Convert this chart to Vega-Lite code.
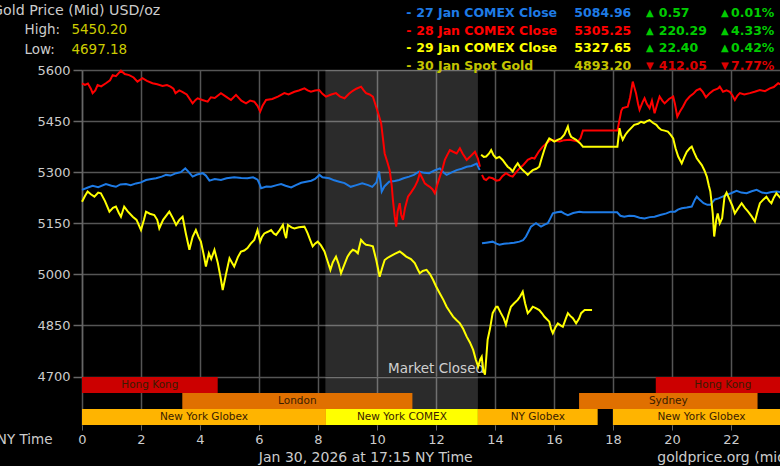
{
  "$schema": "https://vega.github.io/schema/vega-lite/v6.json",
  "background": "#000000",
  "padding": {"left": -8, "top": 4, "right": 0, "bottom": 0},
  "bounds": "flush",
  "spacing": 0,
  "resolve": {"scale": {"color": "independent"}},
  "config": {
    "view": {"stroke": null},
    "font": "DejaVu Sans",
    "text": {"font": "DejaVu Sans"},
    "axis": {"title": null, "labelFont": "DejaVu Sans"},
    "axisX": {"grid": true, "gridColor": "#555555", "gridWidth": 1.5, "domain": false, "tickColor": "#666666", "tickSize": 5, "labelColor": "#cccccc", "labelFontSize": 13, "labelPadding": 3, "labelFlush": false, "title": null},
    "axisY": {"grid": true, "gridColor": "#555555", "gridWidth": 1.5, "domain": true, "domainColor": "#666666", "domainWidth": 1.5, "tickColor": "#666666", "tickSize": 9, "tickWidth": 1.5, "labelColor": "#cccccc", "labelFontSize": 13, "labelPadding": 3, "format": "d", "title": null}
  },
  "datasets": {
    "summary": [{"high": 5450.20, "low": 4697.18, "asof": "Jan 30, 2026 at 17:15 NY Time", "source": "goldprice.org (mid)"}],
    "closed": [{"start": 8.25, "end": 13.42}],
    "legend": [
      {"day": "27 Jan", "label": "27 Jan COMEX Close", "close": 5084.96, "change": 0.57, "pct": 0.0001, "dir": "up"},
      {"day": "28 Jan", "label": "28 Jan COMEX Close", "close": 5305.25, "change": 220.29, "pct": 0.0433, "dir": "up"},
      {"day": "29 Jan", "label": "29 Jan COMEX Close", "close": 5327.65, "change": 22.40, "pct": 0.0042, "dir": "up"},
      {"day": "30 Jan", "label": "30 Jan Spot Gold", "close": 4893.20, "change": 412.05, "pct": 0.0777, "dir": "down"}
    ],
    "sessions": [
      {"name": "Hong Kong", "lane": "asia", "kind": "hk", "start": 0, "end": 4.6},
      {"name": "Hong Kong", "lane": "asia", "kind": "hk", "start": 19.45, "end": 24},
      {"name": "London", "lane": "europe", "kind": "europe", "start": 3.4, "end": 11.2},
      {"name": "Sydney", "lane": "europe", "kind": "europe", "start": 16.85, "end": 22.9},
      {"name": "New York Globex", "lane": "us", "kind": "globex", "start": 0, "end": 8.27},
      {"name": "New York COMEX", "lane": "us", "kind": "comex", "start": 8.27, "end": 13.42},
      {"name": "NY Globex", "lane": "us", "kind": "globex", "start": 13.42, "end": 17.48},
      {"name": "New York Globex", "lane": "us", "kind": "globex", "start": 18, "end": 24}
    ],
    "prices": [
      {"day":"27 Jan","seg":1,"hour":0,"price":5248},{"day":"27 Jan","seg":1,"hour":0.2,"price":5255},{"day":"27 Jan","seg":1,"hour":0.36,"price":5260},{"day":"27 Jan","seg":1,"hour":0.55,"price":5256},{"day":"27 Jan","seg":1,"hour":0.81,"price":5265},{"day":"27 Jan","seg":1,"hour":1.0,"price":5260},{"day":"27 Jan","seg":1,"hour":1.15,"price":5257},{"day":"27 Jan","seg":1,"hour":1.3,"price":5264},{"day":"27 Jan","seg":1,"hour":1.49,"price":5265},{"day":"27 Jan","seg":1,"hour":1.65,"price":5262},{"day":"27 Jan","seg":1,"hour":1.83,"price":5267},{"day":"27 Jan","seg":1,"hour":2.0,"price":5270},{"day":"27 Jan","seg":1,"hour":2.17,"price":5277},{"day":"27 Jan","seg":1,"hour":2.35,"price":5280},{"day":"27 Jan","seg":1,"hour":2.51,"price":5282},{"day":"27 Jan","seg":1,"hour":2.7,"price":5287},{"day":"27 Jan","seg":1,"hour":2.85,"price":5292},{"day":"27 Jan","seg":1,"hour":3.0,"price":5290},{"day":"27 Jan","seg":1,"hour":3.19,"price":5297},{"day":"27 Jan","seg":1,"hour":3.35,"price":5300},{"day":"27 Jan","seg":1,"hour":3.5,"price":5311},{"day":"27 Jan","seg":1,"hour":3.62,"price":5300},{"day":"27 Jan","seg":1,"hour":3.75,"price":5287},{"day":"27 Jan","seg":1,"hour":3.9,"price":5293},{"day":"27 Jan","seg":1,"hour":4.09,"price":5297},{"day":"27 Jan","seg":1,"hour":4.2,"price":5290},{"day":"27 Jan","seg":1,"hour":4.32,"price":5275},{"day":"27 Jan","seg":1,"hour":4.5,"price":5280},{"day":"27 Jan","seg":1,"hour":4.71,"price":5277},{"day":"27 Jan","seg":1,"hour":4.9,"price":5282},{"day":"27 Jan","seg":1,"hour":5.16,"price":5285},{"day":"27 Jan","seg":1,"hour":5.4,"price":5283},{"day":"27 Jan","seg":1,"hour":5.61,"price":5282},{"day":"27 Jan","seg":1,"hour":5.8,"price":5285},{"day":"27 Jan","seg":1,"hour":5.95,"price":5278},{"day":"27 Jan","seg":1,"hour":6.02,"price":5265},{"day":"27 Jan","seg":1,"hour":6.07,"price":5253},{"day":"27 Jan","seg":1,"hour":6.25,"price":5258},{"day":"27 Jan","seg":1,"hour":6.41,"price":5257},{"day":"27 Jan","seg":1,"hour":6.6,"price":5262},{"day":"27 Jan","seg":1,"hour":6.75,"price":5265},{"day":"27 Jan","seg":1,"hour":6.9,"price":5260},{"day":"27 Jan","seg":1,"hour":7.09,"price":5255},{"day":"27 Jan","seg":1,"hour":7.25,"price":5262},{"day":"27 Jan","seg":1,"hour":7.43,"price":5269},{"day":"27 Jan","seg":1,"hour":7.6,"price":5272},{"day":"27 Jan","seg":1,"hour":7.77,"price":5275},{"day":"27 Jan","seg":1,"hour":7.9,"price":5280},{"day":"27 Jan","seg":1,"hour":8.05,"price":5292},{"day":"27 Jan","seg":1,"hour":8.15,"price":5285},{"day":"27 Jan","seg":1,"hour":8.38,"price":5282},{"day":"27 Jan","seg":1,"hour":8.55,"price":5276},{"day":"27 Jan","seg":1,"hour":8.72,"price":5272},{"day":"27 Jan","seg":1,"hour":8.9,"price":5268},{"day":"27 Jan","seg":1,"hour":9.11,"price":5257},{"day":"27 Jan","seg":1,"hour":9.3,"price":5262},{"day":"27 Jan","seg":1,"hour":9.5,"price":5267},{"day":"27 Jan","seg":1,"hour":9.7,"price":5262},{"day":"27 Jan","seg":1,"hour":9.84,"price":5257},{"day":"27 Jan","seg":1,"hour":9.98,"price":5270},{"day":"27 Jan","seg":1,"hour":10.07,"price":5302},{"day":"27 Jan","seg":1,"hour":10.12,"price":5270},{"day":"27 Jan","seg":1,"hour":10.16,"price":5243},{"day":"27 Jan","seg":1,"hour":10.25,"price":5258},{"day":"27 Jan","seg":1,"hour":10.41,"price":5272},{"day":"27 Jan","seg":1,"hour":10.6,"price":5274},{"day":"27 Jan","seg":1,"hour":10.75,"price":5277},{"day":"27 Jan","seg":1,"hour":10.9,"price":5282},{"day":"27 Jan","seg":1,"hour":11.09,"price":5287},{"day":"27 Jan","seg":1,"hour":11.25,"price":5292},{"day":"27 Jan","seg":1,"hour":11.43,"price":5302},{"day":"27 Jan","seg":1,"hour":11.6,"price":5298},{"day":"27 Jan","seg":1,"hour":11.77,"price":5297},{"day":"27 Jan","seg":1,"hour":11.95,"price":5305},{"day":"27 Jan","seg":1,"hour":12.13,"price":5311},{"day":"27 Jan","seg":1,"hour":12.25,"price":5300},{"day":"27 Jan","seg":1,"hour":12.36,"price":5292},{"day":"27 Jan","seg":1,"hour":12.55,"price":5300},{"day":"27 Jan","seg":1,"hour":12.7,"price":5306},{"day":"27 Jan","seg":1,"hour":12.87,"price":5310},{"day":"27 Jan","seg":1,"hour":13.04,"price":5316},{"day":"27 Jan","seg":1,"hour":13.2,"price":5318},{"day":"27 Jan","seg":1,"hour":13.38,"price":5325},{"day":"27 Jan","seg":1,"hour":13.48,"price":5306},
      {"day":"27 Jan","seg":2,"hour":13.56,"price":5091},{"day":"27 Jan","seg":2,"hour":13.7,"price":5093},{"day":"27 Jan","seg":2,"hour":13.92,"price":5096},{"day":"27 Jan","seg":2,"hour":14.05,"price":5090},{"day":"27 Jan","seg":2,"hour":14.15,"price":5087},{"day":"27 Jan","seg":2,"hour":14.3,"price":5090},{"day":"27 Jan","seg":2,"hour":14.49,"price":5091},{"day":"27 Jan","seg":2,"hour":14.65,"price":5093},{"day":"27 Jan","seg":2,"hour":14.83,"price":5096},{"day":"27 Jan","seg":2,"hour":14.95,"price":5100},{"day":"27 Jan","seg":2,"hour":15.05,"price":5111},{"day":"27 Jan","seg":2,"hour":15.15,"price":5128},{"day":"27 Jan","seg":2,"hour":15.22,"price":5140},{"day":"27 Jan","seg":2,"hour":15.3,"price":5145},{"day":"27 Jan","seg":2,"hour":15.39,"price":5150},{"day":"27 Jan","seg":2,"hour":15.48,"price":5145},{"day":"27 Jan","seg":2,"hour":15.56,"price":5140},{"day":"27 Jan","seg":2,"hour":15.68,"price":5146},{"day":"27 Jan","seg":2,"hour":15.79,"price":5150},{"day":"27 Jan","seg":2,"hour":15.88,"price":5165},{"day":"27 Jan","seg":2,"hour":15.96,"price":5179},{"day":"27 Jan","seg":2,"hour":16.1,"price":5182},{"day":"27 Jan","seg":2,"hour":16.24,"price":5184},{"day":"27 Jan","seg":2,"hour":16.35,"price":5178},{"day":"27 Jan","seg":2,"hour":16.47,"price":5174},{"day":"27 Jan","seg":2,"hour":16.65,"price":5180},{"day":"27 Jan","seg":2,"hour":16.86,"price":5184},{"day":"27 Jan","seg":2,"hour":16.98,"price":5182},{"day":"27 Jan","seg":2,"hour":18.14,"price":5182},{"day":"27 Jan","seg":2,"hour":18.25,"price":5172},{"day":"27 Jan","seg":2,"hour":18.38,"price":5169},{"day":"27 Jan","seg":2,"hour":18.55,"price":5172},{"day":"27 Jan","seg":2,"hour":18.72,"price":5171},{"day":"27 Jan","seg":2,"hour":18.9,"price":5166},{"day":"27 Jan","seg":2,"hour":19.07,"price":5164},{"day":"27 Jan","seg":2,"hour":19.25,"price":5168},{"day":"27 Jan","seg":2,"hour":19.41,"price":5169},{"day":"27 Jan","seg":2,"hour":19.6,"price":5174},{"day":"27 Jan","seg":2,"hour":19.81,"price":5179},{"day":"27 Jan","seg":2,"hour":19.95,"price":5184},{"day":"27 Jan","seg":2,"hour":20.1,"price":5184},{"day":"27 Jan","seg":2,"hour":20.2,"price":5190},{"day":"27 Jan","seg":2,"hour":20.33,"price":5194},{"day":"27 Jan","seg":2,"hour":20.5,"price":5196},{"day":"27 Jan","seg":2,"hour":20.67,"price":5199},{"day":"27 Jan","seg":2,"hour":20.78,"price":5220},{"day":"27 Jan","seg":2,"hour":20.84,"price":5228},{"day":"27 Jan","seg":2,"hour":20.95,"price":5218},{"day":"27 Jan","seg":2,"hour":21.07,"price":5209},{"day":"27 Jan","seg":2,"hour":21.2,"price":5204},{"day":"27 Jan","seg":2,"hour":21.3,"price":5204},{"day":"27 Jan","seg":2,"hour":21.45,"price":5220},{"day":"27 Jan","seg":2,"hour":21.58,"price":5223},{"day":"27 Jan","seg":2,"hour":21.81,"price":5232},{"day":"27 Jan","seg":2,"hour":22.0,"price":5238},{"day":"27 Jan","seg":2,"hour":22.19,"price":5245},{"day":"27 Jan","seg":2,"hour":22.35,"price":5240},{"day":"27 Jan","seg":2,"hour":22.53,"price":5238},{"day":"27 Jan","seg":2,"hour":22.7,"price":5244},{"day":"27 Jan","seg":2,"hour":22.87,"price":5248},{"day":"27 Jan","seg":2,"hour":23.05,"price":5240},{"day":"27 Jan","seg":2,"hour":23.2,"price":5238},{"day":"27 Jan","seg":2,"hour":23.37,"price":5242},{"day":"27 Jan","seg":2,"hour":23.54,"price":5243},{"day":"27 Jan","seg":2,"hour":23.8,"price":5240},{"day":"27 Jan","seg":2,"hour":24,"price":5240},
      {"day":"28 Jan","seg":1,"hour":0,"price":5561},{"day":"28 Jan","seg":1,"hour":0.1,"price":5556},{"day":"28 Jan","seg":1,"hour":0.2,"price":5560},{"day":"28 Jan","seg":1,"hour":0.3,"price":5545},{"day":"28 Jan","seg":1,"hour":0.36,"price":5532},{"day":"28 Jan","seg":1,"hour":0.45,"price":5540},{"day":"28 Jan","seg":1,"hour":0.53,"price":5556},{"day":"28 Jan","seg":1,"hour":0.65,"price":5552},{"day":"28 Jan","seg":1,"hour":0.81,"price":5561},{"day":"28 Jan","seg":1,"hour":0.95,"price":5570},{"day":"28 Jan","seg":1,"hour":1.04,"price":5585},{"day":"28 Jan","seg":1,"hour":1.15,"price":5582},{"day":"28 Jan","seg":1,"hour":1.32,"price":5598},{"day":"28 Jan","seg":1,"hour":1.45,"price":5588},{"day":"28 Jan","seg":1,"hour":1.6,"price":5585},{"day":"28 Jan","seg":1,"hour":1.75,"price":5578},{"day":"28 Jan","seg":1,"hour":1.88,"price":5566},{"day":"28 Jan","seg":1,"hour":2.05,"price":5576},{"day":"28 Jan","seg":1,"hour":2.2,"price":5568},{"day":"28 Jan","seg":1,"hour":2.39,"price":5561},{"day":"28 Jan","seg":1,"hour":2.55,"price":5558},{"day":"28 Jan","seg":1,"hour":2.73,"price":5553},{"day":"28 Jan","seg":1,"hour":2.88,"price":5556},{"day":"28 Jan","seg":1,"hour":3.0,"price":5551},{"day":"28 Jan","seg":1,"hour":3.1,"price":5545},{"day":"28 Jan","seg":1,"hour":3.17,"price":5532},{"day":"28 Jan","seg":1,"hour":3.3,"price":5540},{"day":"28 Jan","seg":1,"hour":3.4,"price":5536},{"day":"28 Jan","seg":1,"hour":3.55,"price":5528},{"day":"28 Jan","seg":1,"hour":3.75,"price":5502},{"day":"28 Jan","seg":1,"hour":3.85,"price":5512},{"day":"28 Jan","seg":1,"hour":3.92,"price":5517},{"day":"28 Jan","seg":1,"hour":4.08,"price":5512},{"day":"28 Jan","seg":1,"hour":4.26,"price":5507},{"day":"28 Jan","seg":1,"hour":4.37,"price":5520},{"day":"28 Jan","seg":1,"hour":4.5,"price":5518},{"day":"28 Jan","seg":1,"hour":4.71,"price":5532},{"day":"28 Jan","seg":1,"hour":4.88,"price":5522},{"day":"28 Jan","seg":1,"hour":5.05,"price":5512},{"day":"28 Jan","seg":1,"hour":5.22,"price":5527},{"day":"28 Jan","seg":1,"hour":5.4,"price":5510},{"day":"28 Jan","seg":1,"hour":5.56,"price":5502},{"day":"28 Jan","seg":1,"hour":5.7,"price":5510},{"day":"28 Jan","seg":1,"hour":5.84,"price":5507},{"day":"28 Jan","seg":1,"hour":5.95,"price":5495},{"day":"28 Jan","seg":1,"hour":6.04,"price":5478},{"day":"28 Jan","seg":1,"hour":6.12,"price":5495},{"day":"28 Jan","seg":1,"hour":6.24,"price":5512},{"day":"28 Jan","seg":1,"hour":6.45,"price":5515},{"day":"28 Jan","seg":1,"hour":6.64,"price":5522},{"day":"28 Jan","seg":1,"hour":6.86,"price":5532},{"day":"28 Jan","seg":1,"hour":7.0,"price":5528},{"day":"28 Jan","seg":1,"hour":7.2,"price":5536},{"day":"28 Jan","seg":1,"hour":7.35,"price":5540},{"day":"28 Jan","seg":1,"hour":7.54,"price":5546},{"day":"28 Jan","seg":1,"hour":7.65,"price":5540},{"day":"28 Jan","seg":1,"hour":7.76,"price":5536},{"day":"28 Jan","seg":1,"hour":7.9,"price":5540},{"day":"28 Jan","seg":1,"hour":8.04,"price":5541},{"day":"28 Jan","seg":1,"hour":8.15,"price":5530},{"day":"28 Jan","seg":1,"hour":8.27,"price":5522},{"day":"28 Jan","seg":1,"hour":8.45,"price":5528},{"day":"28 Jan","seg":1,"hour":8.61,"price":5532},{"day":"28 Jan","seg":1,"hour":8.75,"price":5522},{"day":"28 Jan","seg":1,"hour":8.9,"price":5517},{"day":"28 Jan","seg":1,"hour":9.05,"price":5530},{"day":"28 Jan","seg":1,"hour":9.18,"price":5539},{"day":"28 Jan","seg":1,"hour":9.3,"price":5545},{"day":"28 Jan","seg":1,"hour":9.46,"price":5551},{"day":"28 Jan","seg":1,"hour":9.55,"price":5540},{"day":"28 Jan","seg":1,"hour":9.63,"price":5532},{"day":"28 Jan","seg":1,"hour":9.75,"price":5528},{"day":"28 Jan","seg":1,"hour":9.86,"price":5522},{"day":"28 Jan","seg":1,"hour":9.97,"price":5492},{"day":"28 Jan","seg":1,"hour":10.05,"price":5470},{"day":"28 Jan","seg":1,"hour":10.14,"price":5444},{"day":"28 Jan","seg":1,"hour":10.2,"price":5400},{"day":"28 Jan","seg":1,"hour":10.26,"price":5355},{"day":"28 Jan","seg":1,"hour":10.35,"price":5330},{"day":"28 Jan","seg":1,"hour":10.43,"price":5306},{"day":"28 Jan","seg":1,"hour":10.5,"price":5260},{"day":"28 Jan","seg":1,"hour":10.54,"price":5218},{"day":"28 Jan","seg":1,"hour":10.6,"price":5170},{"day":"28 Jan","seg":1,"hour":10.65,"price":5140},{"day":"28 Jan","seg":1,"hour":10.7,"price":5185},{"day":"28 Jan","seg":1,"hour":10.77,"price":5209},{"day":"28 Jan","seg":1,"hour":10.82,"price":5175},{"day":"28 Jan","seg":1,"hour":10.88,"price":5160},{"day":"28 Jan","seg":1,"hour":10.95,"price":5195},{"day":"28 Jan","seg":1,"hour":11.05,"price":5228},{"day":"28 Jan","seg":1,"hour":11.15,"price":5240},{"day":"28 Jan","seg":1,"hour":11.28,"price":5257},{"day":"28 Jan","seg":1,"hour":11.38,"price":5275},{"day":"28 Jan","seg":1,"hour":11.45,"price":5297},{"day":"28 Jan","seg":1,"hour":11.55,"price":5280},{"day":"28 Jan","seg":1,"hour":11.62,"price":5267},{"day":"28 Jan","seg":1,"hour":11.7,"price":5262},{"day":"28 Jan","seg":1,"hour":11.79,"price":5257},{"day":"28 Jan","seg":1,"hour":11.88,"price":5250},{"day":"28 Jan","seg":1,"hour":11.96,"price":5238},{"day":"28 Jan","seg":1,"hour":12.05,"price":5265},{"day":"28 Jan","seg":1,"hour":12.13,"price":5287},{"day":"28 Jan","seg":1,"hour":12.22,"price":5310},{"day":"28 Jan","seg":1,"hour":12.3,"price":5336},{"day":"28 Jan","seg":1,"hour":12.38,"price":5350},{"day":"28 Jan","seg":1,"hour":12.47,"price":5365},{"day":"28 Jan","seg":1,"hour":12.58,"price":5360},{"day":"28 Jan","seg":1,"hour":12.7,"price":5355},{"day":"28 Jan","seg":1,"hour":12.81,"price":5370},{"day":"28 Jan","seg":1,"hour":12.9,"price":5355},{"day":"28 Jan","seg":1,"hour":13.04,"price":5336},{"day":"28 Jan","seg":1,"hour":13.15,"price":5345},{"day":"28 Jan","seg":1,"hour":13.32,"price":5360},{"day":"28 Jan","seg":1,"hour":13.42,"price":5340},{"day":"28 Jan","seg":1,"hour":13.49,"price":5316},
      {"day":"28 Jan","seg":2,"hour":13.56,"price":5292},{"day":"28 Jan","seg":2,"hour":13.63,"price":5280},{"day":"28 Jan","seg":2,"hour":13.7,"price":5277},{"day":"28 Jan","seg":2,"hour":13.8,"price":5285},{"day":"28 Jan","seg":2,"hour":13.92,"price":5282},{"day":"28 Jan","seg":2,"hour":14.05,"price":5275},{"day":"28 Jan","seg":2,"hour":14.15,"price":5277},{"day":"28 Jan","seg":2,"hour":14.25,"price":5288},{"day":"28 Jan","seg":2,"hour":14.37,"price":5297},{"day":"28 Jan","seg":2,"hour":14.5,"price":5290},{"day":"28 Jan","seg":2,"hour":14.6,"price":5287},{"day":"28 Jan","seg":2,"hour":14.72,"price":5300},{"day":"28 Jan","seg":2,"hour":14.83,"price":5311},{"day":"28 Jan","seg":2,"hour":14.95,"price":5320},{"day":"28 Jan","seg":2,"hour":15.11,"price":5336},{"day":"28 Jan","seg":2,"hour":15.25,"price":5342},{"day":"28 Jan","seg":2,"hour":15.34,"price":5340},{"day":"28 Jan","seg":2,"hour":15.48,"price":5360},{"day":"28 Jan","seg":2,"hour":15.62,"price":5375},{"day":"28 Jan","seg":2,"hour":15.75,"price":5385},{"day":"28 Jan","seg":2,"hour":15.9,"price":5395},{"day":"28 Jan","seg":2,"hour":16.05,"price":5392},{"day":"28 Jan","seg":2,"hour":16.19,"price":5390},{"day":"28 Jan","seg":2,"hour":16.35,"price":5394},{"day":"28 Jan","seg":2,"hour":16.53,"price":5395},{"day":"28 Jan","seg":2,"hour":16.7,"price":5392},{"day":"28 Jan","seg":2,"hour":16.81,"price":5390},{"day":"28 Jan","seg":2,"hour":16.9,"price":5400},{"day":"28 Jan","seg":2,"hour":16.98,"price":5422},{"day":"28 Jan","seg":2,"hour":18.15,"price":5422},{"day":"28 Jan","seg":2,"hour":18.22,"price":5453},{"day":"28 Jan","seg":2,"hour":18.28,"price":5480},{"day":"28 Jan","seg":2,"hour":18.33,"price":5488},{"day":"28 Jan","seg":2,"hour":18.5,"price":5492},{"day":"28 Jan","seg":2,"hour":18.58,"price":5520},{"day":"28 Jan","seg":2,"hour":18.67,"price":5566},{"day":"28 Jan","seg":2,"hour":18.72,"price":5550},{"day":"28 Jan","seg":2,"hour":18.78,"price":5532},{"day":"28 Jan","seg":2,"hour":18.85,"price":5500},{"day":"28 Jan","seg":2,"hour":18.9,"price":5483},{"day":"28 Jan","seg":2,"hour":19.0,"price":5505},{"day":"28 Jan","seg":2,"hour":19.07,"price":5517},{"day":"28 Jan","seg":2,"hour":19.15,"price":5500},{"day":"28 Jan","seg":2,"hour":19.24,"price":5488},{"day":"28 Jan","seg":2,"hour":19.32,"price":5510},{"day":"28 Jan","seg":2,"hour":19.41,"price":5473},{"day":"28 Jan","seg":2,"hour":19.5,"price":5500},{"day":"28 Jan","seg":2,"hour":19.58,"price":5522},{"day":"28 Jan","seg":2,"hour":19.67,"price":5510},{"day":"28 Jan","seg":2,"hour":19.75,"price":5502},{"day":"28 Jan","seg":2,"hour":19.9,"price":5515},{"day":"28 Jan","seg":2,"hour":20.04,"price":5522},{"day":"28 Jan","seg":2,"hour":20.1,"price":5500},{"day":"28 Jan","seg":2,"hour":20.18,"price":5463},{"day":"28 Jan","seg":2,"hour":20.27,"price":5478},{"day":"28 Jan","seg":2,"hour":20.37,"price":5492},{"day":"28 Jan","seg":2,"hour":20.48,"price":5510},{"day":"28 Jan","seg":2,"hour":20.6,"price":5522},{"day":"28 Jan","seg":2,"hour":20.72,"price":5530},{"day":"28 Jan","seg":2,"hour":20.83,"price":5540},{"day":"28 Jan","seg":2,"hour":20.95,"price":5545},{"day":"28 Jan","seg":2,"hour":21.05,"price":5535},{"day":"28 Jan","seg":2,"hour":21.15,"price":5520},{"day":"28 Jan","seg":2,"hour":21.28,"price":5532},{"day":"28 Jan","seg":2,"hour":21.4,"price":5540},{"day":"28 Jan","seg":2,"hour":21.55,"price":5545},{"day":"28 Jan","seg":2,"hour":21.62,"price":5551},{"day":"28 Jan","seg":2,"hour":21.73,"price":5536},{"day":"28 Jan","seg":2,"hour":21.85,"price":5540},{"day":"28 Jan","seg":2,"hour":21.96,"price":5536},{"day":"28 Jan","seg":2,"hour":22.05,"price":5525},{"day":"28 Jan","seg":2,"hour":22.13,"price":5512},{"day":"28 Jan","seg":2,"hour":22.22,"price":5525},{"day":"28 Jan","seg":2,"hour":22.3,"price":5532},{"day":"28 Jan","seg":2,"hour":22.45,"price":5528},{"day":"28 Jan","seg":2,"hour":22.64,"price":5532},{"day":"28 Jan","seg":2,"hour":22.8,"price":5536},{"day":"28 Jan","seg":2,"hour":22.98,"price":5541},{"day":"28 Jan","seg":2,"hour":23.15,"price":5538},{"day":"28 Jan","seg":2,"hour":23.32,"price":5546},{"day":"28 Jan","seg":2,"hour":23.45,"price":5550},{"day":"28 Jan","seg":2,"hour":23.6,"price":5561},{"day":"28 Jan","seg":2,"hour":23.75,"price":5555},{"day":"28 Jan","seg":2,"hour":24,"price":5558},
      {"day":"29 Jan","seg":1,"hour":13.53,"price":5351},{"day":"29 Jan","seg":1,"hour":13.62,"price":5345},{"day":"29 Jan","seg":1,"hour":13.7,"price":5346},{"day":"29 Jan","seg":1,"hour":13.8,"price":5355},{"day":"29 Jan","seg":1,"hour":13.87,"price":5365},{"day":"29 Jan","seg":1,"hour":13.95,"price":5350},{"day":"29 Jan","seg":1,"hour":14.04,"price":5341},{"day":"29 Jan","seg":1,"hour":14.15,"price":5345},{"day":"29 Jan","seg":1,"hour":14.26,"price":5336},{"day":"29 Jan","seg":1,"hour":14.35,"price":5325},{"day":"29 Jan","seg":1,"hour":14.43,"price":5316},{"day":"29 Jan","seg":1,"hour":14.52,"price":5310},{"day":"29 Jan","seg":1,"hour":14.6,"price":5302},{"day":"29 Jan","seg":1,"hour":14.68,"price":5315},{"day":"29 Jan","seg":1,"hour":14.77,"price":5326},{"day":"29 Jan","seg":1,"hour":14.85,"price":5315},{"day":"29 Jan","seg":1,"hour":14.94,"price":5306},{"day":"29 Jan","seg":1,"hour":15.02,"price":5300},{"day":"29 Jan","seg":1,"hour":15.11,"price":5292},{"day":"29 Jan","seg":1,"hour":15.2,"price":5300},{"day":"29 Jan","seg":1,"hour":15.28,"price":5306},{"day":"29 Jan","seg":1,"hour":15.4,"price":5310},{"day":"29 Jan","seg":1,"hour":15.5,"price":5316},{"day":"29 Jan","seg":1,"hour":15.58,"price":5340},{"day":"29 Jan","seg":1,"hour":15.67,"price":5365},{"day":"29 Jan","seg":1,"hour":15.75,"price":5385},{"day":"29 Jan","seg":1,"hour":15.84,"price":5399},{"day":"29 Jan","seg":1,"hour":15.92,"price":5395},{"day":"29 Jan","seg":1,"hour":16.01,"price":5390},{"day":"29 Jan","seg":1,"hour":16.12,"price":5395},{"day":"29 Jan","seg":1,"hour":16.24,"price":5399},{"day":"29 Jan","seg":1,"hour":16.35,"price":5410},{"day":"29 Jan","seg":1,"hour":16.47,"price":5434},{"day":"29 Jan","seg":1,"hour":16.52,"price":5415},{"day":"29 Jan","seg":1,"hour":16.58,"price":5404},{"day":"29 Jan","seg":1,"hour":16.75,"price":5395},{"day":"29 Jan","seg":1,"hour":16.88,"price":5385},{"day":"29 Jan","seg":1,"hour":16.98,"price":5375},{"day":"29 Jan","seg":1,"hour":18.15,"price":5375},{"day":"29 Jan","seg":1,"hour":18.22,"price":5429},{"day":"29 Jan","seg":1,"hour":18.27,"price":5410},{"day":"29 Jan","seg":1,"hour":18.33,"price":5395},{"day":"29 Jan","seg":1,"hour":18.42,"price":5410},{"day":"29 Jan","seg":1,"hour":18.5,"price":5419},{"day":"29 Jan","seg":1,"hour":18.62,"price":5430},{"day":"29 Jan","seg":1,"hour":18.72,"price":5439},{"day":"29 Jan","seg":1,"hour":18.85,"price":5442},{"day":"29 Jan","seg":1,"hour":18.95,"price":5448},{"day":"29 Jan","seg":1,"hour":19.05,"price":5445},{"day":"29 Jan","seg":1,"hour":19.15,"price":5450},{"day":"29 Jan","seg":1,"hour":19.24,"price":5453},{"day":"29 Jan","seg":1,"hour":19.35,"price":5445},{"day":"29 Jan","seg":1,"hour":19.47,"price":5439},{"day":"29 Jan","seg":1,"hour":19.55,"price":5430},{"day":"29 Jan","seg":1,"hour":19.64,"price":5424},{"day":"29 Jan","seg":1,"hour":19.75,"price":5422},{"day":"29 Jan","seg":1,"hour":19.86,"price":5419},{"day":"29 Jan","seg":1,"hour":19.95,"price":5410},{"day":"29 Jan","seg":1,"hour":20.04,"price":5399},{"day":"29 Jan","seg":1,"hour":20.12,"price":5370},{"day":"29 Jan","seg":1,"hour":20.21,"price":5346},{"day":"29 Jan","seg":1,"hour":20.33,"price":5326},{"day":"29 Jan","seg":1,"hour":20.42,"price":5345},{"day":"29 Jan","seg":1,"hour":20.5,"price":5360},{"day":"29 Jan","seg":1,"hour":20.6,"price":5370},{"day":"29 Jan","seg":1,"hour":20.67,"price":5375},{"day":"29 Jan","seg":1,"hour":20.75,"price":5358},{"day":"29 Jan","seg":1,"hour":20.84,"price":5341},{"day":"29 Jan","seg":1,"hour":20.93,"price":5330},{"day":"29 Jan","seg":1,"hour":21.01,"price":5321},{"day":"29 Jan","seg":1,"hour":21.1,"price":5305},{"day":"29 Jan","seg":1,"hour":21.18,"price":5287},{"day":"29 Jan","seg":1,"hour":21.25,"price":5260},{"day":"29 Jan","seg":1,"hour":21.3,"price":5243},{"day":"29 Jan","seg":1,"hour":21.38,"price":5180},{"day":"29 Jan","seg":1,"hour":21.43,"price":5111},{"day":"29 Jan","seg":1,"hour":21.5,"price":5160},{"day":"29 Jan","seg":1,"hour":21.55,"price":5179},{"day":"29 Jan","seg":1,"hour":21.62,"price":5150},{"day":"29 Jan","seg":1,"hour":21.7,"price":5165},{"day":"29 Jan","seg":1,"hour":21.78,"price":5228},{"day":"29 Jan","seg":1,"hour":21.85,"price":5240},{"day":"29 Jan","seg":1,"hour":21.96,"price":5218},{"day":"29 Jan","seg":1,"hour":22.05,"price":5200},{"day":"29 Jan","seg":1,"hour":22.13,"price":5179},{"day":"29 Jan","seg":1,"hour":22.25,"price":5195},{"day":"29 Jan","seg":1,"hour":22.36,"price":5209},{"day":"29 Jan","seg":1,"hour":22.47,"price":5195},{"day":"29 Jan","seg":1,"hour":22.58,"price":5184},{"day":"29 Jan","seg":1,"hour":22.7,"price":5170},{"day":"29 Jan","seg":1,"hour":22.81,"price":5155},{"day":"29 Jan","seg":1,"hour":22.9,"price":5185},{"day":"29 Jan","seg":1,"hour":22.98,"price":5209},{"day":"29 Jan","seg":1,"hour":23.1,"price":5220},{"day":"29 Jan","seg":1,"hour":23.2,"price":5228},{"day":"29 Jan","seg":1,"hour":23.3,"price":5215},{"day":"29 Jan","seg":1,"hour":23.37,"price":5209},{"day":"29 Jan","seg":1,"hour":23.45,"price":5225},{"day":"29 Jan","seg":1,"hour":23.54,"price":5238},{"day":"29 Jan","seg":1,"hour":23.7,"price":5222},{"day":"29 Jan","seg":1,"hour":23.85,"price":5215},{"day":"29 Jan","seg":1,"hour":24,"price":5225},
      {"day":"30 Jan","seg":1,"hour":0,"price":5213},{"day":"30 Jan","seg":1,"hour":0.1,"price":5230},{"day":"30 Jan","seg":1,"hour":0.19,"price":5243},{"day":"30 Jan","seg":1,"hour":0.3,"price":5235},{"day":"30 Jan","seg":1,"hour":0.42,"price":5228},{"day":"30 Jan","seg":1,"hour":0.55,"price":5240},{"day":"30 Jan","seg":1,"hour":0.64,"price":5238},{"day":"30 Jan","seg":1,"hour":0.78,"price":5215},{"day":"30 Jan","seg":1,"hour":0.93,"price":5184},{"day":"30 Jan","seg":1,"hour":1.05,"price":5195},{"day":"30 Jan","seg":1,"hour":1.15,"price":5199},{"day":"30 Jan","seg":1,"hour":1.25,"price":5180},{"day":"30 Jan","seg":1,"hour":1.32,"price":5169},{"day":"30 Jan","seg":1,"hour":1.43,"price":5199},{"day":"30 Jan","seg":1,"hour":1.55,"price":5185},{"day":"30 Jan","seg":1,"hour":1.72,"price":5169},{"day":"30 Jan","seg":1,"hour":1.85,"price":5160},{"day":"30 Jan","seg":1,"hour":2.0,"price":5130},{"day":"30 Jan","seg":1,"hour":2.1,"price":5160},{"day":"30 Jan","seg":1,"hour":2.17,"price":5184},{"day":"30 Jan","seg":1,"hour":2.3,"price":5178},{"day":"30 Jan","seg":1,"hour":2.45,"price":5174},{"day":"30 Jan","seg":1,"hour":2.55,"price":5160},{"day":"30 Jan","seg":1,"hour":2.62,"price":5135},{"day":"30 Jan","seg":1,"hour":2.75,"price":5160},{"day":"30 Jan","seg":1,"hour":2.96,"price":5184},{"day":"30 Jan","seg":1,"hour":3.08,"price":5165},{"day":"30 Jan","seg":1,"hour":3.19,"price":5145},{"day":"30 Jan","seg":1,"hour":3.3,"price":5160},{"day":"30 Jan","seg":1,"hour":3.41,"price":5169},{"day":"30 Jan","seg":1,"hour":3.52,"price":5120},{"day":"30 Jan","seg":1,"hour":3.64,"price":5072},{"day":"30 Jan","seg":1,"hour":3.75,"price":5110},{"day":"30 Jan","seg":1,"hour":3.86,"price":5130},{"day":"30 Jan","seg":1,"hour":3.95,"price":5110},{"day":"30 Jan","seg":1,"hour":4.03,"price":5096},{"day":"30 Jan","seg":1,"hour":4.12,"price":5060},{"day":"30 Jan","seg":1,"hour":4.2,"price":5023},{"day":"30 Jan","seg":1,"hour":4.3,"price":5062},{"day":"30 Jan","seg":1,"hour":4.38,"price":5045},{"day":"30 Jan","seg":1,"hour":4.49,"price":5072},{"day":"30 Jan","seg":1,"hour":4.6,"price":5035},{"day":"30 Jan","seg":1,"hour":4.7,"price":4990},{"day":"30 Jan","seg":1,"hour":4.77,"price":4954},{"day":"30 Jan","seg":1,"hour":4.88,"price":5000},{"day":"30 Jan","seg":1,"hour":5.0,"price":5047},{"day":"30 Jan","seg":1,"hour":5.08,"price":5035},{"day":"30 Jan","seg":1,"hour":5.16,"price":5023},{"day":"30 Jan","seg":1,"hour":5.28,"price":5050},{"day":"30 Jan","seg":1,"hour":5.39,"price":5067},{"day":"30 Jan","seg":1,"hour":5.5,"price":5070},{"day":"30 Jan","seg":1,"hour":5.61,"price":5077},{"day":"30 Jan","seg":1,"hour":5.72,"price":5090},{"day":"30 Jan","seg":1,"hour":5.84,"price":5101},{"day":"30 Jan","seg":1,"hour":5.95,"price":5130},{"day":"30 Jan","seg":1,"hour":6.04,"price":5096},{"day":"30 Jan","seg":1,"hour":6.1,"price":5110},{"day":"30 Jan","seg":1,"hour":6.18,"price":5120},{"day":"30 Jan","seg":1,"hour":6.3,"price":5125},{"day":"30 Jan","seg":1,"hour":6.41,"price":5130},{"day":"30 Jan","seg":1,"hour":6.5,"price":5120},{"day":"30 Jan","seg":1,"hour":6.58,"price":5116},{"day":"30 Jan","seg":1,"hour":6.7,"price":5130},{"day":"30 Jan","seg":1,"hour":6.81,"price":5145},{"day":"30 Jan","seg":1,"hour":6.87,"price":5120},{"day":"30 Jan","seg":1,"hour":6.92,"price":5106},{"day":"30 Jan","seg":1,"hour":6.98,"price":5145},{"day":"30 Jan","seg":1,"hour":7.1,"price":5138},{"day":"30 Jan","seg":1,"hour":7.2,"price":5135},{"day":"30 Jan","seg":1,"hour":7.35,"price":5138},{"day":"30 Jan","seg":1,"hour":7.54,"price":5140},{"day":"30 Jan","seg":1,"hour":7.6,"price":5130},{"day":"30 Jan","seg":1,"hour":7.65,"price":5120},{"day":"30 Jan","seg":1,"hour":7.74,"price":5100},{"day":"30 Jan","seg":1,"hour":7.82,"price":5082},{"day":"30 Jan","seg":1,"hour":7.9,"price":5090},{"day":"30 Jan","seg":1,"hour":7.99,"price":5096},{"day":"30 Jan","seg":1,"hour":8.1,"price":5085},{"day":"30 Jan","seg":1,"hour":8.22,"price":5067},{"day":"30 Jan","seg":1,"hour":8.32,"price":5040},{"day":"30 Jan","seg":1,"hour":8.42,"price":5013},{"day":"30 Jan","seg":1,"hour":8.5,"price":5035},{"day":"30 Jan","seg":1,"hour":8.61,"price":5052},{"day":"30 Jan","seg":1,"hour":8.7,"price":5030},{"day":"30 Jan","seg":1,"hour":8.78,"price":5003},{"day":"30 Jan","seg":1,"hour":8.9,"price":5030},{"day":"30 Jan","seg":1,"hour":9.0,"price":5052},{"day":"30 Jan","seg":1,"hour":9.1,"price":5065},{"day":"30 Jan","seg":1,"hour":9.18,"price":5072},{"day":"30 Jan","seg":1,"hour":9.28,"price":5068},{"day":"30 Jan","seg":1,"hour":9.35,"price":5062},{"day":"30 Jan","seg":1,"hour":9.4,"price":5080},{"day":"30 Jan","seg":1,"hour":9.46,"price":5101},{"day":"30 Jan","seg":1,"hour":9.55,"price":5092},{"day":"30 Jan","seg":1,"hour":9.63,"price":5087},{"day":"30 Jan","seg":1,"hour":9.75,"price":5085},{"day":"30 Jan","seg":1,"hour":9.86,"price":5082},{"day":"30 Jan","seg":1,"hour":9.98,"price":5040},{"day":"30 Jan","seg":1,"hour":10.09,"price":4993},{"day":"30 Jan","seg":1,"hour":10.18,"price":5020},{"day":"30 Jan","seg":1,"hour":10.26,"price":5042},{"day":"30 Jan","seg":1,"hour":10.35,"price":5048},{"day":"30 Jan","seg":1,"hour":10.43,"price":5052},{"day":"30 Jan","seg":1,"hour":10.6,"price":5060},{"day":"30 Jan","seg":1,"hour":10.77,"price":5067},{"day":"30 Jan","seg":1,"hour":10.88,"price":5060},{"day":"30 Jan","seg":1,"hour":10.99,"price":5052},{"day":"30 Jan","seg":1,"hour":11.15,"price":5045},{"day":"30 Jan","seg":1,"hour":11.28,"price":5033},{"day":"30 Jan","seg":1,"hour":11.38,"price":5015},{"day":"30 Jan","seg":1,"hour":11.45,"price":5003},{"day":"30 Jan","seg":1,"hour":11.55,"price":5010},{"day":"30 Jan","seg":1,"hour":11.68,"price":5013},{"day":"30 Jan","seg":1,"hour":11.8,"price":5000},{"day":"30 Jan","seg":1,"hour":11.9,"price":4984},{"day":"30 Jan","seg":1,"hour":12.0,"price":4965},{"day":"30 Jan","seg":1,"hour":12.13,"price":4944},{"day":"30 Jan","seg":1,"hour":12.25,"price":4925},{"day":"30 Jan","seg":1,"hour":12.36,"price":4905},{"day":"30 Jan","seg":1,"hour":12.47,"price":4890},{"day":"30 Jan","seg":1,"hour":12.58,"price":4876},{"day":"30 Jan","seg":1,"hour":12.7,"price":4865},{"day":"30 Jan","seg":1,"hour":12.81,"price":4856},{"day":"30 Jan","seg":1,"hour":12.92,"price":4840},{"day":"30 Jan","seg":1,"hour":13.04,"price":4817},{"day":"30 Jan","seg":1,"hour":13.15,"price":4800},{"day":"30 Jan","seg":1,"hour":13.26,"price":4778},{"day":"30 Jan","seg":1,"hour":13.35,"price":4749},{"day":"30 Jan","seg":1,"hour":13.43,"price":4729},{"day":"30 Jan","seg":1,"hour":13.5,"price":4750},{"day":"30 Jan","seg":1,"hour":13.55,"price":4758},{"day":"30 Jan","seg":1,"hour":13.6,"price":4720},{"day":"30 Jan","seg":1,"hour":13.66,"price":4705},{"day":"30 Jan","seg":1,"hour":13.75,"price":4808},{"day":"30 Jan","seg":1,"hour":13.83,"price":4840},{"day":"30 Jan","seg":1,"hour":13.92,"price":4886},{"day":"30 Jan","seg":1,"hour":14.04,"price":4905},{"day":"30 Jan","seg":1,"hour":14.09,"price":4905},{"day":"30 Jan","seg":1,"hour":14.2,"price":4886},{"day":"30 Jan","seg":1,"hour":14.3,"price":4870},{"day":"30 Jan","seg":1,"hour":14.37,"price":4852},{"day":"30 Jan","seg":1,"hour":14.45,"price":4880},{"day":"30 Jan","seg":1,"hour":14.54,"price":4905},{"day":"30 Jan","seg":1,"hour":14.65,"price":4915},{"day":"30 Jan","seg":1,"hour":14.77,"price":4925},{"day":"30 Jan","seg":1,"hour":14.85,"price":4935},{"day":"30 Jan","seg":1,"hour":14.94,"price":4949},{"day":"30 Jan","seg":1,"hour":15.02,"price":4915},{"day":"30 Jan","seg":1,"hour":15.11,"price":4886},{"day":"30 Jan","seg":1,"hour":15.2,"price":4895},{"day":"30 Jan","seg":1,"hour":15.28,"price":4905},{"day":"30 Jan","seg":1,"hour":15.4,"price":4900},{"day":"30 Jan","seg":1,"hour":15.5,"price":4895},{"day":"30 Jan","seg":1,"hour":15.6,"price":4885},{"day":"30 Jan","seg":1,"hour":15.67,"price":4876},{"day":"30 Jan","seg":1,"hour":15.76,"price":4868},{"day":"30 Jan","seg":1,"hour":15.84,"price":4861},{"day":"30 Jan","seg":1,"hour":15.9,"price":4840},{"day":"30 Jan","seg":1,"hour":15.96,"price":4827},{"day":"30 Jan","seg":1,"hour":16.05,"price":4845},{"day":"30 Jan","seg":1,"hour":16.13,"price":4856},{"day":"30 Jan","seg":1,"hour":16.22,"price":4850},{"day":"30 Jan","seg":1,"hour":16.3,"price":4846},{"day":"30 Jan","seg":1,"hour":16.4,"price":4870},{"day":"30 Jan","seg":1,"hour":16.47,"price":4886},{"day":"30 Jan","seg":1,"hour":16.55,"price":4878},{"day":"30 Jan","seg":1,"hour":16.64,"price":4871},{"day":"30 Jan","seg":1,"hour":16.75,"price":4856},{"day":"30 Jan","seg":1,"hour":16.85,"price":4870},{"day":"30 Jan","seg":1,"hour":16.92,"price":4886},{"day":"30 Jan","seg":1,"hour":17.04,"price":4895},{"day":"30 Jan","seg":1,"hour":17.15,"price":4895},{"day":"30 Jan","seg":1,"hour":17.29,"price":4895}
    ]
  },
  "vconcat": [
    {
      "width": 708,
      "height": 306.5,
      "layer": [
        {
          "data": {"name": "closed"},
          "mark": {"type": "rect", "color": "#ffffff", "opacity": 0.17},
          "encoding": {
            "x": {"field": "start", "type": "quantitative", "scale": {"domain": [0, 24], "nice": false, "zero": false}, "axis": {"values": [0, 2, 4, 6, 8, 10, 12, 14, 16, 18, 20, 22, 24], "labels": false, "ticks": false}},
            "x2": {"field": "end"}
          }
        },
        {
          "data": {"name": "summary"},
          "mark": {"type": "text", "align": "center", "baseline": "middle", "fontSize": 13.5, "color": "#d0d0d0"},
          "encoding": {
            "x": {"datum": 12.0, "type": "quantitative"},
            "y": {"datum": 4721, "type": "quantitative"},
            "text": {"value": "Market Closed"}
          }
        },
        {
          "data": {"name": "prices"},
          "mark": {"type": "line", "strokeWidth": 2, "interpolate": "linear"},
          "encoding": {
            "x": {"field": "hour", "type": "quantitative", "scale": {"domain": [0, 24], "nice": false, "zero": false}},
            "y": {"field": "price", "type": "quantitative", "scale": {"domain": [4700, 5600], "nice": false, "zero": false}, "axis": {"values": [4700, 4850, 5000, 5150, 5300, 5450, 5600]}},
            "color": {"field": "day", "type": "nominal", "scale": {"domain": ["27 Jan", "28 Jan", "29 Jan", "30 Jan"], "range": ["#1e7be6", "#ff0000", "#ffff00", "#ffff00"]}, "legend": null},
            "detail": {"field": "seg", "type": "nominal"}
          }
        },
        {
          "data": {"name": "summary"},
          "layer": [
            {"mark": {"type": "text", "align": "left", "baseline": "middle", "fontSize": 14.2, "color": "#cccccc"},
             "encoding": {"x": {"datum": -3.05, "type": "quantitative"}, "y": {"datum": 5773, "type": "quantitative"}, "text": {"value": "Gold Price (Mid) USD/oz"}}},
            {"mark": {"type": "text", "align": "left", "baseline": "middle", "fontSize": 13.5, "color": "#cccccc"},
             "encoding": {"x": {"datum": -1.95, "type": "quantitative"}, "y": {"datum": 5717, "type": "quantitative"}, "text": {"value": "High:"}}},
            {"mark": {"type": "text", "align": "left", "baseline": "middle", "fontSize": 13.5, "color": "#cccc00"},
             "encoding": {"x": {"datum": -0.36, "type": "quantitative"}, "y": {"datum": 5717, "type": "quantitative"}, "text": {"field": "high", "format": ".2f"}}},
            {"mark": {"type": "text", "align": "left", "baseline": "middle", "fontSize": 13.5, "color": "#cccccc"},
             "encoding": {"x": {"datum": -1.95, "type": "quantitative"}, "y": {"datum": 5659, "type": "quantitative"}, "text": {"value": "Low:"}}},
            {"mark": {"type": "text", "align": "left", "baseline": "middle", "fontSize": 13.5, "color": "#cccc00"},
             "encoding": {"x": {"datum": -0.36, "type": "quantitative"}, "y": {"datum": 5659, "type": "quantitative"}, "text": {"field": "low", "format": ".2f"}}},
            {"mark": {"type": "text", "align": "right", "baseline": "middle", "fontSize": 13.5, "color": "#cccccc"},
             "encoding": {"x": {"datum": -1.0, "type": "quantitative"}, "y": {"datum": 4513, "type": "quantitative"}, "text": {"value": "NY Time"}}},
            {"mark": {"type": "text", "align": "center", "baseline": "middle", "fontSize": 14, "color": "#cccccc"},
             "encoding": {"x": {"datum": 9.62, "type": "quantitative"}, "y": {"datum": 4460, "type": "quantitative"}, "text": {"field": "asof"}}},
            {"mark": {"type": "text", "align": "left", "baseline": "middle", "fontSize": 14, "color": "#cccccc"},
             "encoding": {"x": {"datum": 19.5, "type": "quantitative"}, "y": {"datum": 4460, "type": "quantitative"}, "text": {"field": "source"}}}
          ]
        },
        {
          "data": {"name": "legend"},
          "transform": [{"filter": "datum.day == '27 Jan'"}],
          "encoding": {"y": {"datum": 5767, "type": "quantitative"}},
          "layer": [
            {"mark": {"type": "text", "align": "left", "baseline": "middle", "fontSize": 12.5, "fontWeight": "bold", "color": "#1e7be6"}, "encoding": {"x": {"datum": 10.99, "type": "quantitative"}, "text": {"value": "-"}}},
            {"mark": {"type": "text", "align": "left", "baseline": "middle", "fontSize": 12.5, "fontWeight": "bold", "color": "#1e7be6"}, "encoding": {"x": {"datum": 11.33, "type": "quantitative"}, "text": {"field": "label"}}},
            {"mark": {"type": "text", "align": "left", "baseline": "middle", "fontSize": 12.5, "fontWeight": "bold", "color": "#1e7be6"}, "encoding": {"x": {"datum": 16.69, "type": "quantitative"}, "text": {"field": "close", "format": ".2f"}}},
            {"mark": {"type": "text", "align": "left", "baseline": "middle", "fontSize": 10, "color": "#00cc00"}, "encoding": {"x": {"datum": 19.12, "type": "quantitative"}, "text": {"condition": {"test": "datum.dir == 'up'", "value": "▲"}, "value": "▼"}}},
            {"mark": {"type": "text", "align": "left", "baseline": "middle", "fontSize": 12.5, "fontWeight": "bold", "color": "#00cc00"}, "encoding": {"x": {"datum": 19.55, "type": "quantitative"}, "text": {"field": "change", "format": ".2f"}}},
            {"mark": {"type": "text", "align": "left", "baseline": "middle", "fontSize": 10, "color": "#00cc00"}, "encoding": {"x": {"datum": 21.66, "type": "quantitative"}, "text": {"condition": {"test": "datum.dir == 'up'", "value": "▲"}, "value": "▼"}}},
            {"mark": {"type": "text", "align": "left", "baseline": "middle", "fontSize": 12.5, "fontWeight": "bold", "color": "#00cc00"}, "encoding": {"x": {"datum": 22.0, "type": "quantitative"}, "text": {"field": "pct", "format": ".2%"}}}
          ]
        },
        {
          "data": {"name": "legend"},
          "transform": [{"filter": "datum.day == '28 Jan'"}],
          "encoding": {"y": {"datum": 5715, "type": "quantitative"}},
          "layer": [
            {"mark": {"type": "text", "align": "left", "baseline": "middle", "fontSize": 12.5, "fontWeight": "bold", "color": "#ff0000"}, "encoding": {"x": {"datum": 10.99, "type": "quantitative"}, "text": {"value": "-"}}},
            {"mark": {"type": "text", "align": "left", "baseline": "middle", "fontSize": 12.5, "fontWeight": "bold", "color": "#ff0000"}, "encoding": {"x": {"datum": 11.33, "type": "quantitative"}, "text": {"field": "label"}}},
            {"mark": {"type": "text", "align": "left", "baseline": "middle", "fontSize": 12.5, "fontWeight": "bold", "color": "#ff0000"}, "encoding": {"x": {"datum": 16.69, "type": "quantitative"}, "text": {"field": "close", "format": ".2f"}}},
            {"mark": {"type": "text", "align": "left", "baseline": "middle", "fontSize": 10, "color": "#00cc00"}, "encoding": {"x": {"datum": 19.12, "type": "quantitative"}, "text": {"condition": {"test": "datum.dir == 'up'", "value": "▲"}, "value": "▼"}}},
            {"mark": {"type": "text", "align": "left", "baseline": "middle", "fontSize": 12.5, "fontWeight": "bold", "color": "#00cc00"}, "encoding": {"x": {"datum": 19.55, "type": "quantitative"}, "text": {"field": "change", "format": ".2f"}}},
            {"mark": {"type": "text", "align": "left", "baseline": "middle", "fontSize": 10, "color": "#00cc00"}, "encoding": {"x": {"datum": 21.66, "type": "quantitative"}, "text": {"condition": {"test": "datum.dir == 'up'", "value": "▲"}, "value": "▼"}}},
            {"mark": {"type": "text", "align": "left", "baseline": "middle", "fontSize": 12.5, "fontWeight": "bold", "color": "#00cc00"}, "encoding": {"x": {"datum": 22.0, "type": "quantitative"}, "text": {"field": "pct", "format": ".2%"}}}
          ]
        },
        {
          "data": {"name": "legend"},
          "transform": [{"filter": "datum.day == '29 Jan'"}],
          "encoding": {"y": {"datum": 5665, "type": "quantitative"}},
          "layer": [
            {"mark": {"type": "text", "align": "left", "baseline": "middle", "fontSize": 12.5, "fontWeight": "bold", "color": "#ffff00"}, "encoding": {"x": {"datum": 10.99, "type": "quantitative"}, "text": {"value": "-"}}},
            {"mark": {"type": "text", "align": "left", "baseline": "middle", "fontSize": 12.5, "fontWeight": "bold", "color": "#ffff00"}, "encoding": {"x": {"datum": 11.33, "type": "quantitative"}, "text": {"field": "label"}}},
            {"mark": {"type": "text", "align": "left", "baseline": "middle", "fontSize": 12.5, "fontWeight": "bold", "color": "#ffff00"}, "encoding": {"x": {"datum": 16.69, "type": "quantitative"}, "text": {"field": "close", "format": ".2f"}}},
            {"mark": {"type": "text", "align": "left", "baseline": "middle", "fontSize": 10, "color": "#00cc00"}, "encoding": {"x": {"datum": 19.12, "type": "quantitative"}, "text": {"condition": {"test": "datum.dir == 'up'", "value": "▲"}, "value": "▼"}}},
            {"mark": {"type": "text", "align": "left", "baseline": "middle", "fontSize": 12.5, "fontWeight": "bold", "color": "#00cc00"}, "encoding": {"x": {"datum": 19.55, "type": "quantitative"}, "text": {"field": "change", "format": ".2f"}}},
            {"mark": {"type": "text", "align": "left", "baseline": "middle", "fontSize": 10, "color": "#00cc00"}, "encoding": {"x": {"datum": 21.66, "type": "quantitative"}, "text": {"condition": {"test": "datum.dir == 'up'", "value": "▲"}, "value": "▼"}}},
            {"mark": {"type": "text", "align": "left", "baseline": "middle", "fontSize": 12.5, "fontWeight": "bold", "color": "#00cc00"}, "encoding": {"x": {"datum": 22.0, "type": "quantitative"}, "text": {"field": "pct", "format": ".2%"}}}
          ]
        },
        {
          "data": {"name": "legend"},
          "transform": [{"filter": "datum.day == '30 Jan'"}],
          "encoding": {"y": {"datum": 5612, "type": "quantitative"}},
          "layer": [
            {"mark": {"type": "text", "align": "left", "baseline": "middle", "fontSize": 12.5, "fontWeight": "bold", "color": "#c4c400"}, "encoding": {"x": {"datum": 10.99, "type": "quantitative"}, "text": {"value": "-"}}},
            {"mark": {"type": "text", "align": "left", "baseline": "middle", "fontSize": 12.5, "fontWeight": "bold", "color": "#c4c400"}, "encoding": {"x": {"datum": 11.33, "type": "quantitative"}, "text": {"field": "label"}}},
            {"mark": {"type": "text", "align": "left", "baseline": "middle", "fontSize": 12.5, "fontWeight": "bold", "color": "#c4c400"}, "encoding": {"x": {"datum": 16.69, "type": "quantitative"}, "text": {"field": "close", "format": ".2f"}}},
            {"mark": {"type": "text", "align": "left", "baseline": "middle", "fontSize": 10, "color": "#dd0000"}, "encoding": {"x": {"datum": 19.12, "type": "quantitative"}, "text": {"condition": {"test": "datum.dir == 'up'", "value": "▲"}, "value": "▼"}}},
            {"mark": {"type": "text", "align": "left", "baseline": "middle", "fontSize": 12.5, "fontWeight": "bold", "color": "#dd0000"}, "encoding": {"x": {"datum": 19.55, "type": "quantitative"}, "text": {"field": "change", "format": ".2f"}}},
            {"mark": {"type": "text", "align": "left", "baseline": "middle", "fontSize": 10, "color": "#dd0000"}, "encoding": {"x": {"datum": 21.66, "type": "quantitative"}, "text": {"condition": {"test": "datum.dir == 'up'", "value": "▲"}, "value": "▼"}}},
            {"mark": {"type": "text", "align": "left", "baseline": "middle", "fontSize": 12.5, "fontWeight": "bold", "color": "#dd0000"}, "encoding": {"x": {"datum": 22.0, "type": "quantitative"}, "text": {"field": "pct", "format": ".2%"}}}
          ]
        }
      ]
    },
    {
      "width": 708,
      "height": 48,
      "layer": [
        {
          "data": {"name": "closed"},
          "mark": {"type": "rect", "color": "#ffffff", "opacity": 0.17},
          "encoding": {
            "x": {"field": "start", "type": "quantitative", "scale": {"domain": [0, 24], "nice": false, "zero": false}, "axis": {"values": [0, 2, 4, 6, 8, 10, 12, 14, 16, 18, 20, 22, 24]}},
            "x2": {"field": "end"}
          }
        },
        {
          "data": {"name": "sessions"},
          "mark": {"type": "rect"},
          "encoding": {
            "x": {"field": "start", "type": "quantitative", "scale": {"domain": [0, 24], "nice": false, "zero": false}},
            "x2": {"field": "end"},
            "y": {"field": "lane", "type": "nominal", "scale": {"domain": ["asia", "europe", "us"], "paddingInner": 0, "paddingOuter": 0}, "axis": null},
            "color": {"field": "kind", "type": "nominal", "scale": {"domain": ["hk", "europe", "globex", "comex"], "range": ["#cc0000", "#e07000", "#ffb400", "#ffff00"]}, "legend": null}
          }
        },
        {
          "data": {"name": "sessions"},
          "transform": [
            {"fold": ["start", "end"], "as": ["edge", "edgeHour"]},
            {"aggregate": [{"op": "mean", "field": "edgeHour", "as": "mid"}], "groupby": ["name", "lane", "start"]}
          ],
          "mark": {"type": "text", "align": "center", "baseline": "middle", "fontSize": 10.5, "color": "#3a1c00"},
          "encoding": {
            "x": {"field": "mid", "type": "quantitative"},
            "y": {"field": "lane", "type": "nominal"},
            "text": {"field": "name"}
          }
        }
      ]
    }
  ]
}
